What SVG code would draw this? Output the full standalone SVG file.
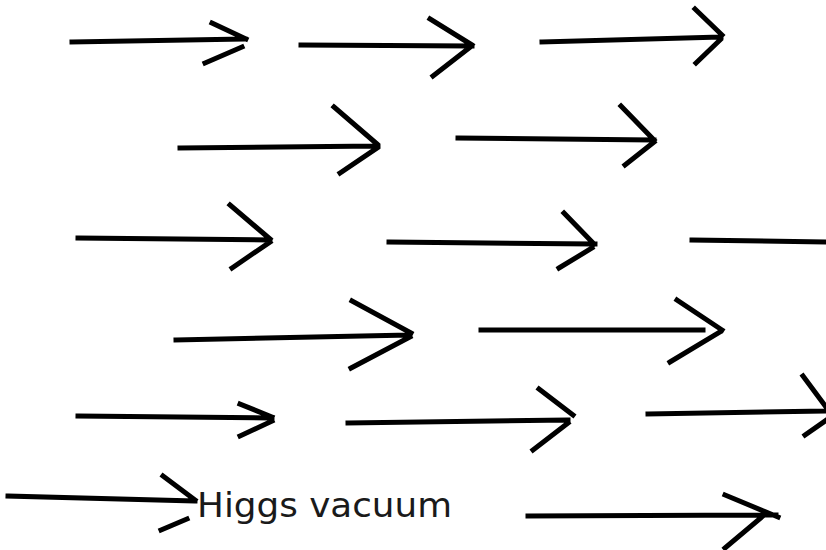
<svg xmlns="http://www.w3.org/2000/svg" width="826" height="550" viewBox="0 0 826 550">
<style>
.a{fill:none;stroke:#000;stroke-width:5;stroke-linecap:square;stroke-linejoin:miter}
.t{font-family:"DejaVu Sans",sans-serif;font-size:33px;fill:#1a1a1a}
</style>
<rect width="826" height="550" fill="#fff"/>
<g id="connectors">
<g id="a1"><path class="a" d="M72 42 L245 39 M212 23 L246 39 M205 63 L242 47"/></g>
<g id="a2"><path class="a" d="M301 45 L472 46 M430 19 L472 45 M433 76 L469 48"/></g>
<g id="a3"><path class="a" d="M542 42 L721 37 M695 9 L722 35 M696 63 L720 40"/></g>
<g id="a4"><path class="a" d="M180 148 L378 146 M334 107 L377 144 M340 173 L377 148"/></g>
<g id="a5"><path class="a" d="M458 138 L654 140 M621 106 L654 140 M625 165 L654 142"/></g>
<g id="a6"><path class="a" d="M78 238 L270 240 M230 205 L270 239 M232 268 L270 242"/></g>
<g id="a7"><path class="a" d="M389 242 L595 244 M564 213 L594 244 M559 268 L592 248"/></g>
<g id="a8"><path class="a" d="M692 240 L830 242"/></g>
<g id="a9"><path class="a" d="M176 340 L410 335 M352 301 L411 333 M351 368 L410 337"/></g>
<g id="a10"><path class="a" d="M481 330 L703 330 M677 300 L722 330 M670 362 L720 332"/></g>
<g id="a11"><path class="a" d="M78 416 L272 418 M240 404 L272 417 M240 436 L272 421"/></g>
<g id="a12"><path class="a" d="M348 423 L568 420 M539 389 L573 415 M533 450 L568 423"/></g>
<g id="a13"><path class="a" d="M648 414 L830 411 M803 376 L826 407 M805 435 L828 419"/></g>
<g id="a14"><path class="a" d="M8 496 L195 501 M163 476 L195 500 M161 530 L187 519"/></g>
<g id="a15"><path class="a" d="M528 516 L776 515 M725 495 L778 517 M725 548 L763 516"/></g>
</g>
<g id="label"><text class="t" x="197" y="517" textLength="255" lengthAdjust="spacingAndGlyphs">Higgs vacuum</text></g>
</svg>
